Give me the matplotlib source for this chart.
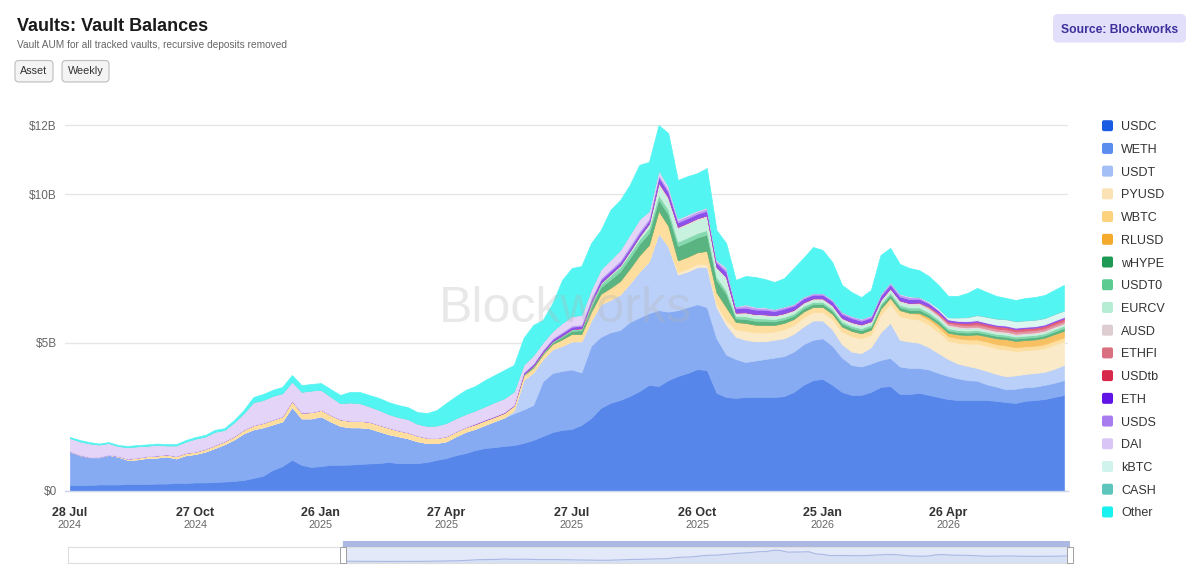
import matplotlib
matplotlib.use("Agg")
import matplotlib.pyplot as plt
from matplotlib.patches import FancyBboxPatch
from matplotlib.transforms import IdentityTransform
from matplotlib.colors import to_rgb
import numpy as np
import pandas as pd

plt.rcParams['font.family'] = ['Liberation Sans', 'DejaVu Sans']

# ---------------- data (weekly, $B) ----------------
dates = pd.date_range('2024-07-28', periods=104, freq='7D')

usdc = [0.20, 0.20, 0.20, 0.22, 0.22, 0.22, 0.24, 0.24, 0.24, 0.25,
        0.25, 0.27, 0.27, 0.29, 0.29, 0.30, 0.32, 0.34, 0.37, 0.44,
        0.51, 0.71, 0.84, 1.05, 0.88, 0.81, 0.84, 0.88, 0.88, 0.89,
        0.91, 0.93, 0.94, 0.98, 0.94, 0.94, 0.94, 0.98, 1.05, 1.11,
        1.21, 1.28, 1.38, 1.45, 1.48, 1.52, 1.55, 1.62, 1.72, 1.85,
        1.99, 2.06, 2.09, 2.23, 2.46, 2.80, 2.97, 3.07, 3.20, 3.37,
        3.58, 3.54, 3.74, 3.88, 3.98, 4.11, 4.08, 3.31, 3.17, 3.14,
        3.17, 3.17, 3.17, 3.17, 3.20, 3.34, 3.58, 3.74, 3.78, 3.58,
        3.34, 3.24, 3.24, 3.34, 3.51, 3.54, 3.27, 3.27, 3.31, 3.24,
        3.17, 3.10, 3.07, 3.07, 3.07, 3.07, 3.04, 3.00, 2.97, 3.04,
        3.07, 3.10, 3.17, 3.24]
weth = [1.13, 1.01, 0.94, 0.92, 1.00, 0.94, 0.81, 0.83, 0.88, 0.88,
        0.92, 0.83, 0.94, 0.96, 1.04, 1.15, 1.26, 1.40, 1.58, 1.64,
        1.64, 1.54, 1.51, 1.79, 1.57, 1.64, 1.68, 1.47, 1.32, 1.26,
        1.24, 1.19, 1.08, 0.94, 0.91, 0.84, 0.74, 0.64, 0.57, 0.57,
        0.64, 0.72, 0.72, 0.78, 0.88, 0.96, 1.07, 1.13, 1.18, 1.85,
        1.99, 1.99, 2.01, 1.77, 2.44, 2.40, 2.38, 2.36, 2.50, 2.48,
        2.42, 2.56, 2.31, 2.22, 2.22, 2.19, 2.12, 1.84, 1.43, 1.31,
        1.18, 1.23, 1.28, 1.33, 1.35, 1.36, 1.37, 1.36, 1.37, 1.32,
        1.16, 1.01, 0.96, 0.96, 0.91, 0.95, 0.93, 0.88, 0.84, 0.86,
        0.81, 0.78, 0.73, 0.67, 0.65, 0.53, 0.48, 0.43, 0.48, 0.46,
        0.45, 0.48, 0.48, 0.50]
usdt = [0.0] * 46 + [0.10,
        1.00, 1.10, 0.75, 0.80, 0.85, 0.95, 1.05, 0.85, 1.10, 1.10,
        1.20, 1.30, 1.55, 1.75, 2.60, 2.20, 1.20, 1.20, 1.25, 1.35,
        1.05, 1.00, 0.75, 0.75, 0.65, 0.60, 0.60, 0.60, 0.60, 0.60,
        0.65, 0.60, 0.55, 0.45, 0.45, 0.45, 0.55, 0.93, 1.18, 0.90,
        0.89, 0.85, 0.75, 0.67, 0.57, 0.50, 0.48, 0.43, 0.45, 0.43,
        0.44, 0.45, 0.45, 0.46, 0.44, 0.47, 0.51]
pyusd = [0.0] * 63 + [0.08, 0.10, 0.10, 0.10, 0.10, 0.15,
         0.25, 0.30, 0.30, 0.30, 0.28, 0.30, 0.30, 0.30, 0.28, 0.28,
         0.35, 0.42, 0.52, 0.50, 0.42, 0.60, 0.65, 0.80, 0.78, 0.78,
         0.76, 0.72, 0.62, 0.70, 0.75, 0.82, 0.85, 0.86, 0.90, 0.82,
         0.80, 0.79, 0.80, 0.82, 0.80]
wbtc = [0.01, 0.01, 0.01, 0.01, 0.01, 0.02, 0.04, 0.06, 0.06, 0.07,
        0.07, 0.08, 0.08, 0.08, 0.09, 0.10, 0.10, 0.11, 0.12, 0.14,
        0.15, 0.16, 0.17, 0.21, 0.20, 0.21, 0.22, 0.22, 0.22, 0.22,
        0.22, 0.22, 0.22, 0.22, 0.20, 0.20, 0.19, 0.18, 0.17, 0.17,
        0.16, 0.16, 0.16, 0.16, 0.15, 0.16, 0.17,
        0.15, 0.16, 0.16, 0.18, 0.22, 0.25, 0.25, 0.30, 0.35, 0.40,
        0.45, 0.50, 0.55, 0.55, 0.75, 0.70,
        0.40, 0.40, 0.40, 0.45, 0.40, 0.45,
        0.25, 0.27, 0.26, 0.25, 0.22, 0.22, 0.20, 0.20, 0.18, 0.18,
        0.18, 0.18, 0.18, 0.17, 0.17, 0.20, 0.20, 0.20, 0.19, 0.18,
        0.17, 0.16, 0.15, 0.15, 0.14, 0.14, 0.14, 0.14, 0.14, 0.13,
        0.13, 0.13, 0.13, 0.13, 0.13]
rlusd = [0.0] * 88 + [0.05, 0.08, 0.10, 0.12, 0.13, 0.15, 0.17, 0.18,
                      0.20, 0.21, 0.21, 0.21, 0.21, 0.22, 0.22, 0.22]
whype = [0.0] * 47 + [
         0.02, 0.03, 0.04, 0.05, 0.08, 0.10, 0.12, 0.18, 0.22, 0.28,
         0.32, 0.35, 0.38, 0.40, 0.38, 0.38,
         0.48, 0.50, 0.50, 0.55, 0.40, 0.45,
         0.12, 0.13, 0.13, 0.13, 0.12, 0.12, 0.11, 0.11, 0.10, 0.10,
         0.10, 0.10, 0.10, 0.10, 0.10, 0.10, 0.10, 0.10, 0.10, 0.10,
         0.09, 0.09, 0.08, 0.08, 0.08, 0.08, 0.08, 0.08, 0.08, 0.08,
         0.08, 0.08, 0.08, 0.08, 0.09]
usdt0 = [0.0] * 47 + [
         0.02, 0.03, 0.03, 0.04, 0.05, 0.06, 0.07, 0.10, 0.12, 0.14,
         0.15, 0.16, 0.16, 0.17, 0.16, 0.16,
         0.15, 0.15, 0.15, 0.15, 0.12, 0.12,
         0.08, 0.09, 0.09, 0.09, 0.08, 0.08, 0.08, 0.08, 0.07, 0.07,
         0.07, 0.07, 0.07, 0.07, 0.07, 0.07, 0.08, 0.08, 0.08, 0.08,
         0.08, 0.07, 0.07, 0.07, 0.07, 0.07, 0.07, 0.07, 0.07, 0.07,
         0.07, 0.07, 0.07, 0.08, 0.08]
eurcv = [0.0] * 54 + [
         0.02, 0.03, 0.05, 0.06, 0.08, 0.10, 0.15, 0.34, 0.34,
         0.45, 0.45, 0.45, 0.45, 0.30, 0.40,
         0.08, 0.10, 0.10, 0.10, 0.09, 0.09, 0.08, 0.08, 0.08, 0.08,
         0.08, 0.08, 0.09, 0.09, 0.08, 0.09, 0.10, 0.10, 0.10, 0.10,
         0.09, 0.08, 0.07, 0.07, 0.07, 0.07, 0.06, 0.06, 0.06, 0.05,
         0.05, 0.05, 0.05, 0.05, 0.05]
ausd = ([0.0] * 61 + [0.08, 0.08, 0.05, 0.05, 0.05, 0.05, 0.04, 0.05]
        + [0.04] * 17 + [0.05] * 7 + [0.04] * 11)
ethfi = [0.0] * 88 + [0.02, 0.04, 0.05, 0.06, 0.07] + [0.08] * 11
usdtb = [0.0] * 89 + [0.02, 0.04, 0.05, 0.06, 0.07] + [0.08] * 10
eth = [0.0] * 42 + [0.02] * 5 + [
       0.05, 0.06, 0.06, 0.07, 0.08, 0.08, 0.08, 0.10, 0.10, 0.10,
       0.10, 0.10, 0.10, 0.10, 0.18, 0.18,
       0.15, 0.15, 0.15, 0.15, 0.14, 0.18,
       0.14, 0.15, 0.15, 0.15, 0.14, 0.15, 0.14, 0.13, 0.12, 0.12,
       0.13, 0.13, 0.13, 0.12, 0.12, 0.13, 0.13, 0.13, 0.13, 0.12,
       0.10, 0.08, 0.06, 0.05, 0.05, 0.05, 0.04, 0.04, 0.04, 0.04,
       0.04, 0.04, 0.04, 0.04, 0.04]
usds = [0.0] * 47 + [
        0.02, 0.02, 0.03, 0.03, 0.04, 0.04, 0.05, 0.05, 0.06, 0.06,
        0.07, 0.08, 0.08, 0.08, 0.08, 0.08,
        0.08, 0.08, 0.08, 0.08, 0.06, 0.08,
        0.06, 0.08, 0.07, 0.06, 0.06, 0.06, 0.05, 0.05, 0.05, 0.05,
        0.05, 0.06, 0.06, 0.06, 0.06, 0.06, 0.06, 0.07, 0.07, 0.05,
        0.04, 0.03] + [0.02] * 13
dai = [0.45, 0.46, 0.46, 0.42, 0.39, 0.34, 0.39, 0.38, 0.35, 0.36,
       0.30, 0.36, 0.38, 0.44, 0.42, 0.45, 0.38, 0.47, 0.56, 0.78,
       0.77, 0.80, 0.78, 0.64, 0.70, 0.73, 0.68, 0.62, 0.55, 0.62,
       0.60, 0.52, 0.50, 0.46, 0.45, 0.45, 0.40, 0.40, 0.42, 0.45,
       0.45, 0.44, 0.44, 0.45, 0.47, 0.47, 0.45,
       0.25, 0.28, 0.25, 0.25, 0.30, 0.32, 0.32, 0.30, 0.30, 0.32,
       0.35, 0.38, 0.40, 0.25, 0.15, 0.12,
       0.05, 0.05, 0.04, 0.04, 0.04, 0.07,
       0.02, 0.04, 0.03, 0.03, 0.02, 0.02, 0.02, 0.02, 0.01, 0.01,
       0.02, 0.02, 0.02, 0.02, 0.02, 0.02, 0.02, 0.03, 0.03, 0.02] + [0.0] * 15
kbtc = [0.0] * 89 + [0.03, 0.05, 0.06, 0.10, 0.12, 0.16, 0.18, 0.19] + [0.20] * 7
cash = [0.0] * 92 + [0.01] + [0.02] * 11
other = [0.03, 0.04, 0.04, 0.03, 0.03, 0.03, 0.04, 0.04, 0.04, 0.04,
         0.04, 0.04, 0.05, 0.05, 0.05, 0.06, 0.06, 0.07, 0.10, 0.17,
         0.20, 0.20, 0.21, 0.22, 0.22, 0.22, 0.22, 0.25, 0.27, 0.35,
         0.37, 0.38, 0.40, 0.40, 0.40, 0.40, 0.39, 0.43, 0.52, 0.67,
         0.74, 0.81, 0.82, 0.88, 0.91, 0.95, 0.89,
         0.90, 1.02, 0.75, 0.94, 1.45, 1.62, 1.65, 1.56, 1.32, 1.68,
         1.68, 1.67, 1.83, 1.65, 1.52, 1.78,
         1.30, 1.29, 1.25, 1.32, 1.00, 0.81,
         0.88, 0.95, 1.00, 0.95, 0.90, 0.95, 1.20, 1.30, 1.55, 1.45,
         1.25, 0.90, 0.80, 0.72, 0.85, 1.30, 1.15, 1.00, 0.95, 0.90,
         0.85, 0.78, 0.72, 0.72, 0.80, 0.90, 0.82, 0.75, 0.70, 0.70,
         0.74, 0.75, 0.76, 0.80, 0.85]

names = ['USDC', 'WETH', 'USDT', 'PYUSD', 'WBTC', 'RLUSD', 'wHYPE', 'USDT0',
         'EURCV', 'AUSD', 'ETHFI', 'USDtb', 'ETH', 'USDS', 'DAI', 'kBTC',
         'CASH', 'Other']
colors = ['#1a5be3', '#5b8def', '#a3bff6', '#fae2b4', '#fcd27c', '#f4ab2c',
          '#1f9a55', '#5ccb91', '#b5ecd4', '#ddcdd1', '#d8707f', '#d8284a',
          '#6214e6', '#a67cee', '#d9c5f6', '#d0f3ed', '#5ec5bd', '#17f1ef']
series = [usdc, weth, usdt, pyusd, wbtc, rlusd, whype, usdt0, eurcv, ausd,
          ethfi, usdtb, eth, usds, dai, kbtc, cash, other]

tick_dates = pd.to_datetime(['2024-07-28', '2024-10-27', '2025-01-26',
                             '2025-04-27', '2025-07-27', '2025-10-26',
                             '2026-01-25', '2026-04-26'])
tick_days = ['28 Jul', '27 Oct', '26 Jan', '27 Apr', '27 Jul', '26 Oct',
             '25 Jan', '26 Apr']
tick_years = ['2024', '2024', '2025', '2025', '2025', '2025', '2026', '2026']
y_labels = ['$0', '$5B', '$10B', '$12B']

total = np.sum(np.array(series), axis=0)
# top tick sits at the series maximum (labelled $12B), as in the source chart
y_ticks = [0, 5, 10, round(float(total.max()), 2)]

# ---------------- figure ----------------
W, H = 1200, 580
fig = plt.figure(figsize=(W / 100, H / 100), dpi=100)
fig.patch.set_facecolor('white')


def fx(px):
    return px / W


def fy(py):
    return 1 - py / H


def pbox(x0, y0, x1, y1, fc, ec, r, lw=0.8, z=1):
    p = FancyBboxPatch((x0, H - y1), x1 - x0, y1 - y0,
                       boxstyle=f'round,pad=0,rounding_size={r}',
                       transform=IdentityTransform(), fc=fc, ec=ec, lw=lw,
                       zorder=z)
    fig.add_artist(p)


# main axes
ax = fig.add_axes([fx(65), fy(491), fx(1068) - fx(65), fy(108.5) - fy(491)])
fill = [tuple(0.74 * np.array(to_rgb(c)) + 0.26) for c in colors]
polys = ax.stackplot(dates, *series, colors=fill, lw=0)
for p, c in zip(polys, fill):
    p.set_edgecolor(c)
    p.set_linewidth(0.5)

ax.set_xlim(dates[0] - pd.Timedelta(days=3.6), dates[-1] + pd.Timedelta(days=3))
ax.set_ylim(0, 12.9)
ax.set_yticks(y_ticks)
ax.set_yticklabels([s.replace('$', r'\$') for s in y_labels])
ax.tick_params(axis='y', length=0, pad=6, labelsize=8.5, labelcolor='#666666')
ax.set_xticks([])
ax.set_axisbelow(True)
ax.grid(axis='y', color='#e6e6e6', lw=1)
for s in ['top', 'right', 'left']:
    ax.spines[s].set_visible(False)
ax.spines['bottom'].set_color('#ccd6eb')
ax.spines['bottom'].set_linewidth(1)

for d, dl, yl in zip(tick_dates, tick_days, tick_years):
    ax.annotate(dl, xy=(d, 0), xycoords=('data', 'axes fraction'),
                xytext=(0, -25 * 0.72), textcoords='offset points',
                ha='center', va='baseline', fontsize=9, fontweight='bold',
                color='#333333')
    ax.annotate(yl, xy=(d, 0), xycoords=('data', 'axes fraction'),
                xytext=(0, -37.5 * 0.72), textcoords='offset points',
                ha='center', va='baseline', fontsize=7.8, color='#666666')

# watermark
fig.text(fx(565), fy(321.7), 'Blockworks', fontsize=36, color='#b4b4b4',
         alpha=0.3, ha='center', va='baseline', zorder=10)

# title, subtitle, buttons
fig.text(fx(17), fy(30.7), 'Vaults: Vault Balances', fontsize=13,
         fontweight='bold', color='#1a1a1a', va='baseline')
fig.text(fx(17), fy(47.5), 'Vault AUM for all tracked vaults, recursive deposits removed',
         fontsize=7.3, color='#666666', va='baseline')
pbox(15, 60.5, 53, 82, '#f4f4f4', '#bdbdbd', 4)
pbox(62, 60.5, 109, 82, '#f4f4f4', '#bdbdbd', 4)
fig.text(fx(34), fy(74.5), 'Asset', fontsize=7.8, color='#333333',
         ha='center', va='baseline')
fig.text(fx(85.5), fy(74.5), 'Weekly', fontsize=7.8, color='#333333',
         ha='center', va='baseline')

# source badge
pbox(1053, 14, 1186, 42.5, '#e2dffb', 'none', 5, lw=0)
fig.text(fx(1119.5), fy(32.7), 'Source: Blockworks', fontsize=8.7,
         fontweight='bold', color='#3d2f9c', ha='center', va='baseline')

# legend
for i, (nm, c) in enumerate(zip(names, colors)):
    yc = 125.7 + 22.72 * i
    pbox(1102, yc - 5.5, 1113, yc + 5.5, c, 'none', 2, lw=0)
    fig.text(fx(1121), fy(yc), nm, fontsize=9, color='#333333',
             va='center_baseline')

# navigator
nav_lo = dates[0] - pd.Timedelta(weeks=38.96)
nav = fig.add_axes([fx(68), fy(563), fx(1070) - fx(68), fy(547) - fy(563)])
nav.set_xlim(nav_lo, dates[-1])
nav.set_ylim(0, 15.5)
nav.axvspan(dates[0], dates[-1], color='#e3e9f9', zorder=0)
nav.fill_between(dates, total, color='#c3d0ef', alpha=0.35, lw=0, zorder=1)
nav.plot(dates, total, color='#a9b9e2', lw=0.8, zorder=2)
nav.set_xticks([])
nav.set_yticks([])
for s in nav.spines.values():
    s.set_color('#dedede')
    s.set_linewidth(0.8)
hmark = [(-1, -3), (1, -3), (1, 3), (-1, 3), (-1, -3)]
nav.plot([dates[0], dates[-1]], [7.5, 7.5], ls='none', marker=hmark,
         markersize=12, mfc='white', mec='#a0a0a0', mew=0.7, zorder=5,
         clip_on=False)

bar = fig.add_axes([fx(68), fy(547), fx(1070) - fx(68), fy(541) - fy(547)])
bar.set_xlim(nav_lo, dates[-1])
bar.axvspan(dates[0], dates[-1], color='#abb8e2')
bar.axis('off')

fig.savefig('out.png', dpi=100, facecolor='white')
